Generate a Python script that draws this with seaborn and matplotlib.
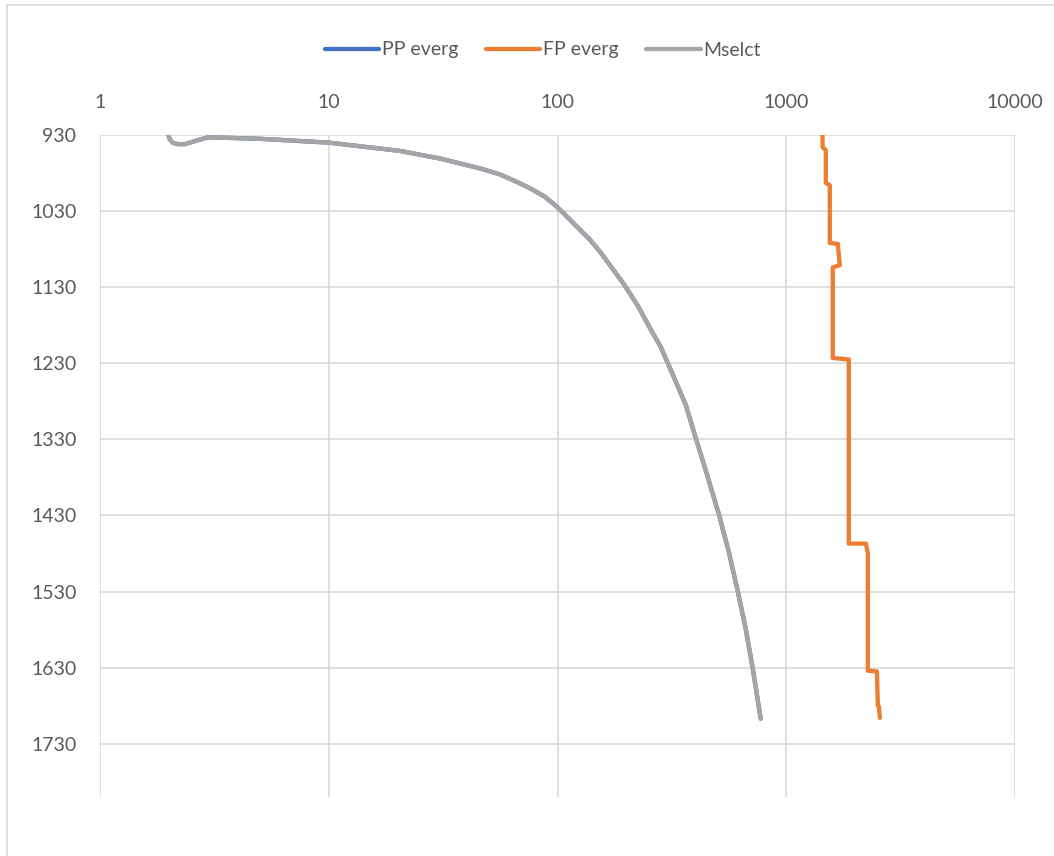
import matplotlib
matplotlib.use("Agg")
import matplotlib.pyplot as plt
from matplotlib.patches import Rectangle
import seaborn as sns
import pandas as pd

# Pressure profiles versus depth
mselct_pressure = [1.99, 2.02, 2.08, 2.19, 2.35, 2.6, 2.97, 5.0, 10.0, 20.6, 30.7,
                   46.0, 56.3, 69.0, 75.8, 88.0, 100.0, 114.0, 139.0, 154.0, 194.0,
                   224.0, 255.0, 282.0, 312.0, 364.0, 402.0, 444.0, 507.0, 560.0,
                   613.0, 665.0, 713.0, 773.0]
mselct_depth = [930, 936, 940, 942, 942, 938, 933, 935, 940, 951, 961,
                974, 982, 994, 1000, 1011, 1025, 1042, 1068, 1084, 1125,
                1154, 1185, 1208, 1238, 1285, 1328, 1370, 1428, 1477,
                1529, 1579, 1630, 1697]

# Pore pressure follows the same profile as the selected curve
pp_pressure = list(mselct_pressure)
pp_depth = list(mselct_depth)

fp_pressure = [1440, 1442, 1489, 1489, 1550, 1550, 1680, 1714, 1597, 1597, 1877,
               1877, 2228, 2273, 2273, 2490, 2515, 2540, 2566]
fp_depth = [930, 946, 950, 993, 996, 1072, 1073, 1101, 1104, 1223, 1225,
            1467, 1467, 1479, 1634, 1635, 1680, 1681, 1696]

x_ticks = [1, 10, 100, 1000, 10000]
y_ticks = [930, 1030, 1130, 1230, 1330, 1430, 1530, 1630, 1730]

series = [("PP everg", pp_pressure, pp_depth, "#4472C4"),
          ("FP everg", fp_pressure, fp_depth, "#ED7D31"),
          ("Mselct", mselct_pressure, mselct_depth, "#A5A5A5")]

sns.set_theme(style="white")
plt.rcParams["font.family"] = ["Lato", "DejaVu Sans"]

fig = plt.figure(figsize=(10.54, 8.56), dpi=100)
ax = fig.add_axes([100 / 1054, 1 - 797 / 856, (1015 - 100) / 1054, (797 - 135) / 856])

for name, xs, ds, color in series:
    df = pd.DataFrame({"pressure": xs, "depth": ds})
    sns.lineplot(data=df, x="pressure", y="depth", sort=False, estimator=None,
                 color=color, linewidth=3.1, label=name, ax=ax,
                 solid_capstyle="round", solid_joinstyle="round")

ax.set_xscale("log")
ax.set_xlim(1, 10000)
ax.set_ylim(1800, 930)
ax.set_xticks(x_ticks)
ax.set_xticklabels([str(v) for v in x_ticks])
ax.minorticks_off()
ax.set_yticks(y_ticks)
ax.set_yticklabels([str(v) for v in y_ticks])
ax.xaxis.tick_top()
ax.tick_params(axis="x", length=0, pad=17, labelsize=14, labelcolor="#595959")
ax.tick_params(axis="y", length=0, pad=17, labelsize=14, labelcolor="#595959")
ax.grid(True, color="#D9D9D9", linewidth=1.2)
ax.set_axisbelow(True)
for s in ax.spines.values():
    s.set_visible(False)
ax.set_xlabel("")
ax.set_ylabel("")

handles, labels = ax.get_legend_handles_labels()
ax.legend_.remove()
fig.legend(handles, labels, loc="center", bbox_to_anchor=(543 / 1054, 1 - 50 / 856),
           ncol=3, frameon=False, fontsize=14, handlelength=2.8, handletextpad=0.15,
           columnspacing=1.4, labelcolor="#595959")

# chart area frame
fig.patches.append(Rectangle((7 / 1054, -0.05), 1.1, 1 - 5 / 856 + 0.05,
                             transform=fig.transFigure, fill=False,
                             edgecolor="#D9D9D9", linewidth=1.2))

fig.savefig("out.png", dpi=100)
